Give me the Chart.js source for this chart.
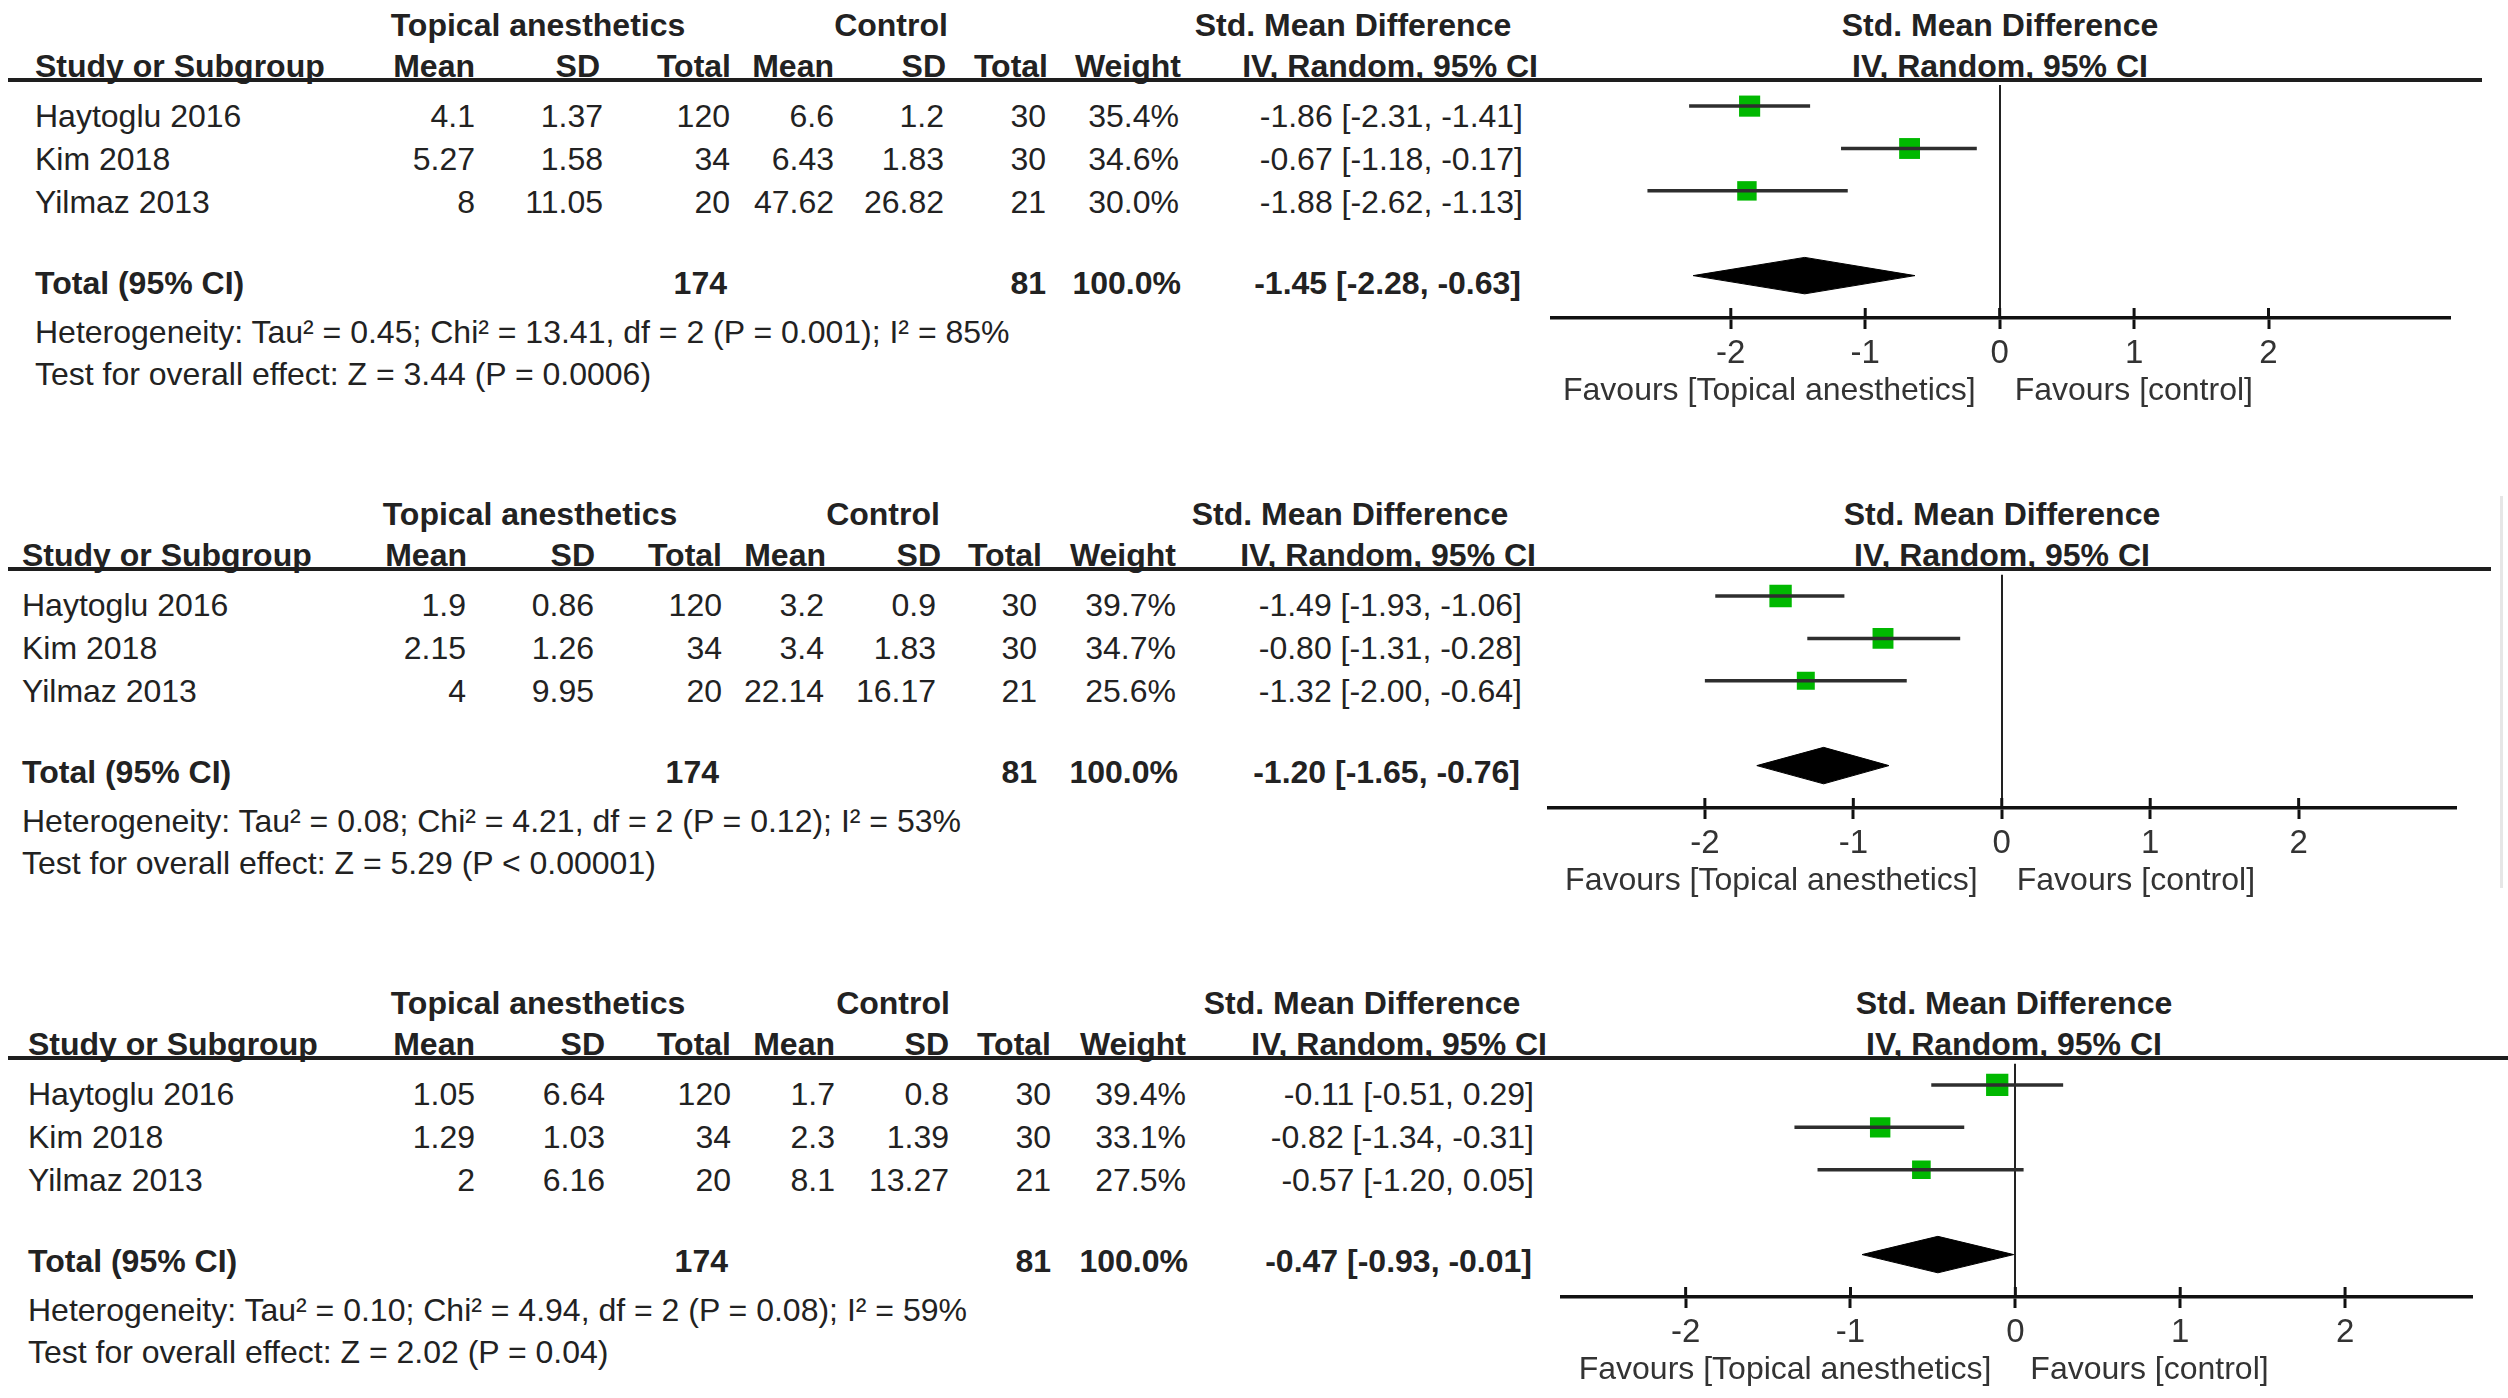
<!DOCTYPE html>
<html>
<head>
<meta charset="utf-8">
<script src="https://cdn.jsdelivr.net/npm/chart.js@4/dist/chart.umd.min.js"></script>
<style>
  html, body { margin: 0; padding: 0; background: #fff; }
  #page { position: relative; width: 2508px; height: 1398px; overflow: hidden; background: #fff;
          font-family: "Liberation Sans", Arial, sans-serif; color: #222; }
  .t { position: absolute; white-space: nowrap; line-height: 1; font-size: 32px; }
  .b { font-weight: bold; }
  .rule { position: absolute; background: #1e1e1e; }
  canvas { position: absolute; }
</style>
</head>
<body>
<div id="page"></div>
<script>
// ---- data ----
const studies = ['Haytoglu 2016', 'Kim 2018', 'Yilmaz 2013'];
const groupHeads = ['Topical anesthetics', 'Control', 'Std. Mean Difference'];
const columnHeads = ['Mean', 'SD', 'Total', 'Mean', 'SD', 'Total', 'Weight', 'IV, Random, 95% CI'];
const favourLabels = ['Favours [Topical anesthetics]', 'Favours [control]'];
const tickValues = [-2, -1, 0, 1, 2];

// panel A
const expMeanA = [4.1, 5.27, 8];
const expSdA = [1.37, 1.58, 11.05];
const expTotalA = [120, 34, 20];
const ctlMeanA = [6.6, 6.43, 47.62];
const ctlSdA = [1.2, 1.83, 26.82];
const ctlTotalA = [30, 30, 21];
const weightA = [35.4, 34.6, 30.0];
const smdA = [-1.86, -0.67, -1.88];
const lowerA = [-2.31, -1.18, -2.62];
const upperA = [-1.41, -0.17, -1.13];
const pooledA = [-1.45, -2.28, -0.63]; // estimate, lower, upper
const hetA = 'Heterogeneity: Tau² = 0.45; Chi² = 13.41, df = 2 (P = 0.001); I² = 85%';
const testA = 'Test for overall effect: Z = 3.44 (P = 0.0006)';

// panel B
const expMeanB = [1.9, 2.15, 4];
const expSdB = [0.86, 1.26, 9.95];
const expTotalB = [120, 34, 20];
const ctlMeanB = [3.2, 3.4, 22.14];
const ctlSdB = [0.9, 1.83, 16.17];
const ctlTotalB = [30, 30, 21];
const weightB = [39.7, 34.7, 25.6];
const smdB = [-1.49, -0.80, -1.32];
const lowerB = [-1.93, -1.31, -2.00];
const upperB = [-1.06, -0.28, -0.64];
const pooledB = [-1.20, -1.65, -0.76];
const hetB = 'Heterogeneity: Tau² = 0.08; Chi² = 4.21, df = 2 (P = 0.12); I² = 53%';
const testB = 'Test for overall effect: Z = 5.29 (P < 0.00001)';

// panel C
const expMeanC = [1.05, 1.29, 2];
const expSdC = [6.64, 1.03, 6.16];
const expTotalC = [120, 34, 20];
const ctlMeanC = [1.7, 2.3, 8.1];
const ctlSdC = [0.8, 1.39, 13.27];
const ctlTotalC = [30, 30, 21];
const weightC = [39.4, 33.1, 27.5];
const smdC = [-0.11, -0.82, -0.57];
const lowerC = [-0.51, -1.34, -1.20];
const upperC = [0.29, -0.31, 0.05];
const pooledC = [-0.47, -0.93, -0.01];
const hetC = 'Heterogeneity: Tau² = 0.10; Chi² = 4.94, df = 2 (P = 0.08); I² = 59%';
const testC = 'Test for overall effect: Z = 2.02 (P = 0.04)';

// ---- layout ----
const page = document.getElementById('page');
const FONT = '"Liberation Sans", Arial, sans-serif';

function txt(s, x, y, align, bold) {
    const d = document.createElement('div');
    d.className = 't' + (bold ? ' b' : '');
    d.textContent = s;
    d.style.left = x + 'px';
    d.style.top = y + 'px';
    const tx = align === 'right' ? '-100%' : (align === 'center' ? '-50%' : '0');
    d.style.transform = 'translate(' + tx + ', -50%)';
    page.appendChild(d);
}

function rule(x, y, w, h, color) {
    const d = document.createElement('div');
    d.className = 'rule';
    d.style.left = x + 'px'; d.style.top = y + 'px';
    d.style.width = w + 'px'; d.style.height = h + 'px';
    if (color) d.style.background = color;
    page.appendChild(d);
}

const sum = arr => arr.reduce((a, b) => a + b, 0);
const ci = (e, l, u) => e.toFixed(2) + ' [' + l.toFixed(2) + ', ' + u.toFixed(2) + ']';

function buildPanel(p) {
    const L = p.lineY;
    // group headers
    txt(groupHeads[0], p.groupX[0], L - 55, 'center', true);
    txt(groupHeads[1], p.groupX[1], L - 55, 'center', true);
    txt(groupHeads[2], p.groupX[2], L - 55, 'center', true);
    txt(groupHeads[2], p.plotHeadX, L - 55, 'center', true);
    // column headers
    txt('Study or Subgroup', p.studyX, L - 14, 'left', true);
    columnHeads.forEach((h, k) => txt(h, p.colX[k], L - 14, 'right', true));
    txt(columnHeads[7], p.plotHeadX, L - 14, 'center', true);
    rule(8, L - 2, p.lineEnd - 8, 4);

    const rowY = [L + 36, L + 79, L + 122];
    studies.forEach((s, i) => {
        const y = rowY[i];
        const vals = [p.expMean[i], p.expSd[i], p.expTotal[i], p.ctlMean[i], p.ctlSd[i], p.ctlTotal[i],
                      p.weight[i].toFixed(1) + '%', ci(p.smd[i], p.lower[i], p.upper[i])];
        txt(s, p.studyX, y, 'left', false);
        vals.forEach((v, k) => txt(String(v), p.valX[k], y, 'right', false));
    });
    const ty = L + 203;
    txt('Total (95% CI)', p.studyX, ty, 'left', true);
    txt(String(sum(p.expTotal)), p.valX[2] - 3, ty, 'right', true);
    txt(String(sum(p.ctlTotal)), p.valX[5], ty, 'right', true);
    txt(sum(p.weight).toFixed(1) + '%', p.valX[6] + 2, ty, 'right', true);
    txt(ci(p.pooled[0], p.pooled[1], p.pooled[2]), p.valX[7] - 2, ty, 'right', true);
    txt(p.het, p.studyX, L + 252, 'left', false);
    txt(p.test, p.studyX, L + 294, 'left', false);

    // forest plot
    const padL = 40, padR = 40, padT = 10, axisH = 110;
    const cv = document.createElement('canvas');
    const w = (p.x1 - p.x0) + padL + padR;
    const h = (p.axisY - L) + padT + axisH;
    cv.width = w; cv.height = h;
    cv.style.width = w + 'px'; cv.style.height = h + 'px';
    cv.style.left = (p.x0 - padL) + 'px';
    cv.style.top = (L - padT) + 'px';
    page.appendChild(cv);

    const totalRow = studies.length + 1;
    const half = 0.43;
    const datasets = [];
    studies.forEach((s, i) => {
        datasets.push({
            label: s + ' CI',
            data: [{ x: p.lower[i], y: i }, { x: p.upper[i], y: i }],
            showLine: true, borderColor: '#2e2e2e', borderWidth: 3.5, pointRadius: 0
        });
    });
    datasets.push({
        label: 'SMD',
        data: p.smd.map((v, i) => ({ x: v, y: i })),
        pointStyle: 'rect',
        pointRadius: p.weight.map(wt => 2.51 * Math.sqrt(wt)),
        backgroundColor: '#00b800', borderWidth: 0, showLine: false
    });
    datasets.push({
        label: 'Total upper',
        data: [{ x: p.pooled[1], y: totalRow }, { x: p.pooled[0], y: totalRow - half }, { x: p.pooled[2], y: totalRow }],
        showLine: true, borderColor: '#000', borderWidth: 1, pointRadius: 0,
        backgroundColor: '#000', fill: '+1'
    });
    datasets.push({
        label: 'Total lower',
        data: [{ x: p.pooled[1], y: totalRow }, { x: p.pooled[0], y: totalRow + half }, { x: p.pooled[2], y: totalRow }],
        showLine: true, borderColor: '#000', borderWidth: 1, pointRadius: 0
    });

    const extras = {
        id: 'extras',
        afterDraw(chart) {
            const c = chart.ctx, xs = chart.scales.x, a = chart.chartArea;
            c.save();
            // tick marks crossing above the axis too
            c.strokeStyle = '#111'; c.lineWidth = 3;
            tickValues.forEach(v => {
                const px = xs.getPixelForValue(v);
                c.beginPath(); c.moveTo(px, a.bottom - 10); c.lineTo(px, a.bottom); c.stroke();
            });
            c.fillStyle = '#333';
            c.font = '32px ' + FONT;
            c.textBaseline = 'middle';
            const zx = xs.getPixelForValue(0);
            c.textAlign = 'right';
            c.fillText(favourLabels[0], zx - 24, a.bottom + 73);
            c.textAlign = 'left';
            c.fillText(favourLabels[1], zx + 15, a.bottom + 73);
            c.restore();
        }
    };

    new Chart(cv.getContext('2d'), {
        type: 'scatter',
        data: { datasets: datasets },
        options: {
            responsive: false, animation: false,
            layout: { padding: { left: padL, right: padR, top: padT, bottom: 0 } },
            plugins: { legend: { display: false }, tooltip: { enabled: false } },
            scales: {
                x: {
                    type: 'linear', position: 'bottom', min: p.xMin, max: p.xMax,
                    afterBuildTicks: s => { s.ticks = tickValues.map(v => ({ value: v })); },
                    afterFit: s => { s.height = axisH; },
                    border: { display: true, color: '#111', width: 3.5 },
                    grid: {
                        drawOnChartArea: true, drawTicks: true, tickLength: 11,
                        tickColor: '#111', tickWidth: 3, lineWidth: 2,
                        color: c => (c.tick && c.tick.value === 0) ? '#222' : 'rgba(0,0,0,0)'
                    },
                    ticks: {
                        color: '#333', padding: 5, maxRotation: 0,
                        font: { size: 33, family: FONT },
                        callback: v => String(v)
                    }
                },
                y: { type: 'linear', reverse: true, min: -0.5, max: 5, display: false }
            }
        },
        plugins: [extras]
    });
}

buildPanel({
    lineY: 80, axisY: 318, lineEnd: 2482,
    studyX: 35, groupX: [538, 891, 1353], plotHeadX: 2000,
    colX: [475, 600, 731, 834, 946, 1048, 1181, 1538],
    valX: [475, 603, 730, 834, 944, 1046, 1179, 1523],
    x0: 1552, x1: 2450, xMin: -3.33, xMax: 3.35,
    expMean: expMeanA, expSd: expSdA, expTotal: expTotalA, ctlMean: ctlMeanA, ctlSd: ctlSdA,
    ctlTotal: ctlTotalA, weight: weightA, smd: smdA, lower: lowerA, upper: upperA,
    pooled: pooledA, het: hetA, test: testA
});
buildPanel({
    lineY: 569, axisY: 808, lineEnd: 2491,
    studyX: 22, groupX: [530, 883, 1350], plotHeadX: 2002,
    colX: [467, 595, 722, 826, 941, 1042, 1176, 1536],
    valX: [466, 594, 722, 824, 936, 1037, 1176, 1522],
    x0: 1549, x1: 2456, xMin: -3.05, xMax: 3.06,
    expMean: expMeanB, expSd: expSdB, expTotal: expTotalB, ctlMean: ctlMeanB, ctlSd: ctlSdB,
    ctlTotal: ctlTotalB, weight: weightB, smd: smdB, lower: lowerB, upper: upperB,
    pooled: pooledB, het: hetB, test: testB
});
buildPanel({
    lineY: 1058, axisY: 1297, lineEnd: 2508,
    studyX: 28, groupX: [538, 893, 1362], plotHeadX: 2014,
    colX: [475, 605, 731, 835, 949, 1051, 1186, 1547],
    valX: [475, 605, 731, 835, 949, 1051, 1186, 1534],
    x0: 1562, x1: 2472, xMin: -2.75, xMax: 2.77,
    expMean: expMeanC, expSd: expSdC, expTotal: expTotalC, ctlMean: ctlMeanC, ctlSd: ctlSdC,
    ctlTotal: ctlTotalC, weight: weightC, smd: smdC, lower: lowerC, upper: upperC,
    pooled: pooledC, het: hetC, test: testC
});

// faint scan edge on the right of the middle panel
rule(2500, 496, 3, 392, '#e6e6e6');
</script>
</body>
</html>
